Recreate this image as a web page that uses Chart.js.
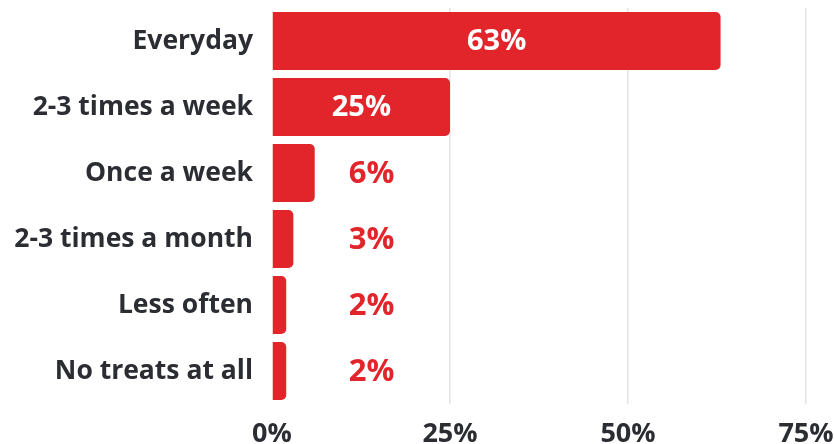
<!DOCTYPE html>
<html>
<head>
<meta charset="utf-8">
<script src="https://cdn.jsdelivr.net/npm/chart.js@4"></script>
<style>
  html, body { margin: 0; padding: 0; background: #fff; }
  #wrap { width: 834px; height: 444px; }
</style>
</head>
<body>
<div id="wrap"><canvas id="treats"></canvas></div>
<script>
const categories = ['Everyday', '2-3 times a week', 'Once a week', '2-3 times a month', 'Less often', 'No treats at all'];
const shares = [63, 25, 6, 3, 2, 2];
const xTicks = [0, 25, 50, 75];

const RED = '#e1252b';
const INK = '#2b2d33';
const FONT = '"Open Sans", sans-serif';

// prints each share on its bar, or beside it when the bar is too short
const valueLabels = {
  id: 'valueLabels',
  afterDatasetsDraw(chart) {
    const { ctx, scales } = chart;
    const meta = chart.getDatasetMeta(0);
    ctx.save();
    ctx.textAlign = 'center';
    ctx.textBaseline = 'middle';
    meta.data.forEach((bar, i) => {
      const v = shares[i];
      let x;
      if (v >= 20) {
        ctx.font = 'bold 29px ' + FONT;
        ctx.fillStyle = '#ffffff';
        x = (bar.base + bar.x) / 2;
      } else {
        ctx.font = 'bold 31px ' + FONT;
        ctx.fillStyle = RED;
        x = scales.x.getPixelForValue(14);
      }
      ctx.fillText(v + '%', x, bar.y + 1);
    });
    ctx.restore();
  }
};

new Chart(document.getElementById('treats'), {
  type: 'bar',
  data: {
    labels: categories,
    datasets: [{
      data: shares,
      backgroundColor: RED,
      borderRadius: 5,
      borderSkipped: 'start',
      barPercentage: 0.88,
      categoryPercentage: 1
    }]
  },
  options: {
    indexAxis: 'y',
    responsive: true,
    maintainAspectRatio: false,
    animation: false,
    layout: { padding: { top: 8, right: 28, bottom: 0, left: 0 } },
    plugins: {
      legend: { display: false },
      tooltip: { enabled: false }
    },
    scales: {
      x: {
        min: 0,
        max: 75,
        afterBuildTicks: s => { s.ticks = xTicks.map(v => ({ value: v })); },
        border: { display: false },
        grid: {
          color: c => c.tick && c.tick.value === 0 ? 'rgba(0,0,0,0)' : '#e4e4e4',
          lineWidth: 1.5,
          drawTicks: false
        },
        ticks: {
          padding: 14,
          color: INK,
          font: { family: FONT, size: 27, weight: 'bold' },
          callback: v => v + '%'
        },
        afterFit: s => { s.height = 40; s.paddingLeft = 0; s.paddingRight = 0; }
      },
      y: {
        border: { display: false },
        grid: { display: false },
        ticks: {
          padding: 11,
          color: INK,
          font: { family: FONT, size: 26.5, weight: 'bold' }
        },
        afterFit: s => { s.width = 272; s.paddingTop = 0; s.paddingBottom = 0; }
      }
    }
  },
  plugins: [valueLabels]
});
</script>
</body>
</html>
